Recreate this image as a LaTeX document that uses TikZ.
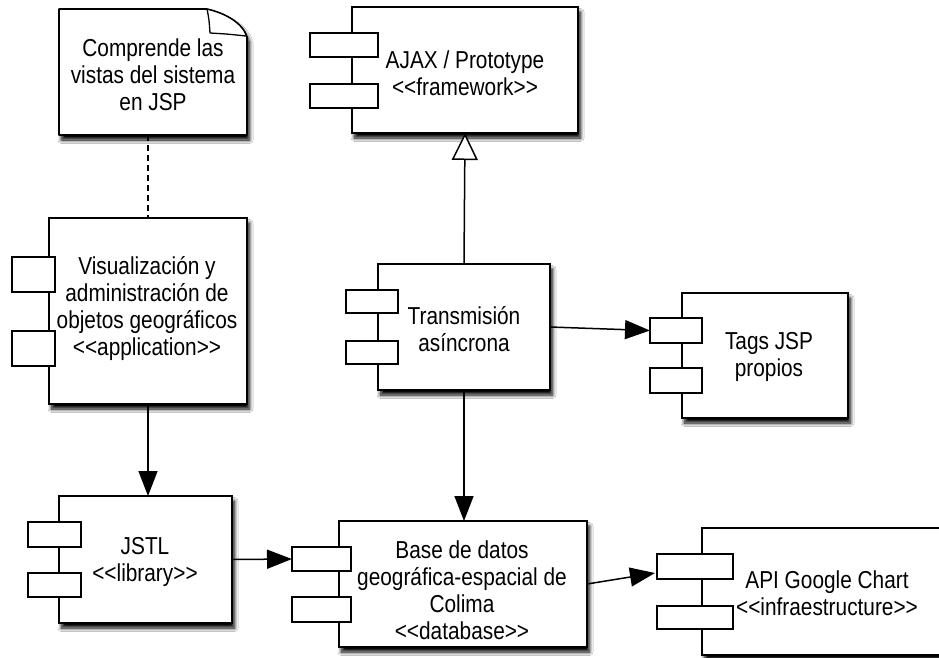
\documentclass[tikz,border=0pt]{standalone}
\usepackage{fontspec}
\setmainfont{Liberation Sans}[FakeStretch=0.85]
\usetikzlibrary{arrows.meta,shadows.blur}

\tikzset{
  every node/.style={font=\fontsize{24.5}{27}\selectfont},
  shade/.style={blur shadow={shadow xshift=2.5pt, shadow yshift=-5pt,
      shadow blur radius=3.5pt, shadow blur steps=10, shadow opacity=100}},
  body/.style={draw, line width=1.6pt, fill=white, shade,
      inner sep=0pt, outer sep=0pt},
  port/.style={draw, line width=1.6pt, fill=white, inner sep=0pt, outer sep=0pt},
  label/.style={align=center, inner sep=0pt},
  link/.style={line width=1.5pt, draw=black, opacity=1, fill opacity=1, draw opacity=1},
  dep/.style={link, -{Triangle[length=25pt,width=19pt,fill=black,color=black]}},
  real/.style={link, -{Triangle[open,length=27pt,width=26pt,fill=white]}},
}

\begin{document}
\begin{tikzpicture}[x=1pt, y=-1pt]
\useasboundingbox (0,0) rectangle (939,657);
\fill[white] (0,0) rectangle (939,657);
\clip (0,0) rectangle (939,657);

% note sheet with folded corner
\filldraw[line width=1.6pt, fill=white, shade, line join=round]
  (59,9) -- (207,9)
  .. controls (225,13) and (243,23) .. (247,37)
  -- (247,135) -- (59,135) -- cycle;
\draw[line width=1.3pt, line join=round]
  (207,9) .. controls (209,19) .. (210,33)
  .. controls (227,34) .. (246,36);
\node[label, minimum width=188pt, minimum height=126pt] (note) at (153,72) {};
\node[label] (notetext) at (153,75) {Comprende las\\vistas del sistema\\en JSP};

% component bodies
\node[body, minimum width=226pt, minimum height=126pt] (ajax)  at (465,70) {};
\node[body, minimum width=198pt, minimum height=186pt] (vis)   at (148,311) {};
\node[body, minimum width=172pt, minimum height=126pt] (trans) at (464,327) {};
\node[body, minimum width=166pt, minimum height=125pt] (tags)  at (765,355.5) {};
\node[body, minimum width=173pt, minimum height=127pt] (jstl)  at (145.5,559.5) {};
\node[body, minimum width=248pt, minimum height=126pt] (base)  at (463,584) {};
\node[body, minimum width=258pt, minimum height=127pt] (api)   at (831,591.5) {};

% component ports
\node[port, minimum width=68pt, minimum height=24pt] (ajaxp1)  at (344,45) {};
\node[port, minimum width=68pt, minimum height=24pt] (ajaxp2)  at (344,96) {};
\node[port, minimum width=43pt, minimum height=35pt] (visp1)   at (33.5,274.5) {};
\node[port, minimum width=43pt, minimum height=35pt] (visp2)   at (33.5,348.5) {};
\node[port, minimum width=52pt, minimum height=23pt] (transp1) at (372,301.5) {};
\node[port, minimum width=52pt, minimum height=23pt] (transp2) at (372,352.5) {};
\node[port, minimum width=52pt, minimum height=25pt] (tagsp1)  at (676,330.5) {};
\node[port, minimum width=52pt, minimum height=25pt] (tagsp2)  at (676,380.5) {};
\node[port, minimum width=53pt, minimum height=25pt] (jstlp1)  at (54.5,534.5) {};
\node[port, minimum width=53pt, minimum height=24pt] (jstlp2)  at (54.5,585) {};
\node[port, minimum width=59pt, minimum height=24pt] (basep1)  at (321.5,559) {};
\node[port, minimum width=59pt, minimum height=25pt] (basep2)  at (321.5,609.5) {};
\node[port, minimum width=76pt, minimum height=25pt] (apip1)   at (695,566.5) {};
\node[port, minimum width=76pt, minimum height=23pt] (apip2)   at (695,617.5) {};

% labels
\node[label] (ajaxt)  at (465,73)  {AJAX / Prototype\\<{}<framework>{}>};
\node[label] (vist)   at (147,309) {Visualización y\\administración de\\objetos geográficos\\<{}<application>{}>};
\node[label] (transt) at (464,329) {Transmisión\\asíncrona};
\node[label] (tagst)  at (769,357) {Tags JSP\\propios};
\node[label] (jstlt)  at (145,562) {JSTL\\<{}<library>{}>};
\node[label] (baset)  at (462,590) {Base de datos\\geográfica-espacial de\\Colima\\<{}<database>{}>};
\node[label] (apit)   at (827,593) {API Google Chart\\<{}<infraestructure>{}>};

% connectors
\draw[link, dashed, dash pattern=on 6pt off 4pt] (vis.north |- note.south) -- (vis.north);
\draw[real] (trans.north) -- (ajax.south);
\draw[dep] (trans.east) -- (tagsp1.west);
\draw[dep] (vis.south) -- (vis.south |- jstl.north);
\draw[dep] (jstl.east) -- (basep1.west);
\draw[dep] (trans.south) -- (trans.south |- base.north);
\coordinate (apiin) at (655,573);
\draw[dep] (base.east) -- (apiin);
\end{tikzpicture}
\end{document}
